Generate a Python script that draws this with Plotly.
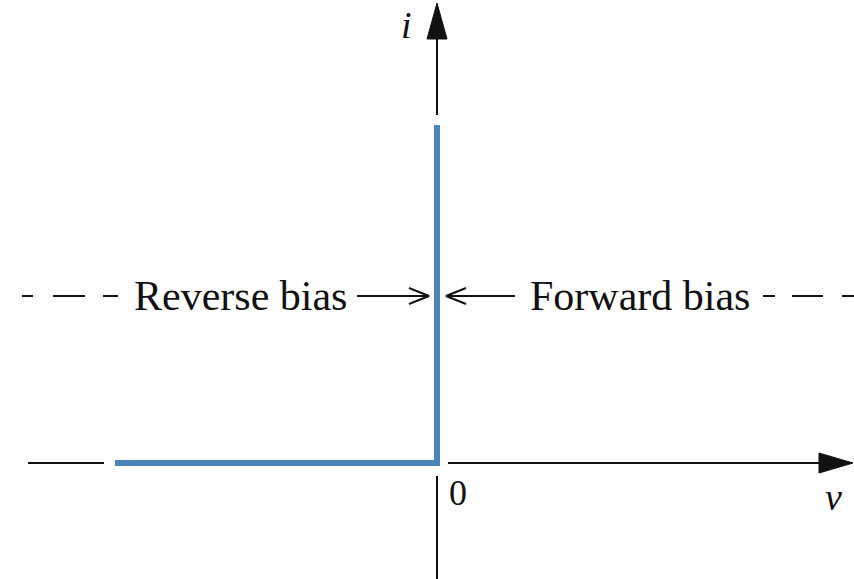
import plotly.graph_objs as go

# diagram units: 1 unit ~ 1 px of the original figure, origin at the knee of the curve
# ideal diode characteristic
v_curve = [-322, 0, 0]
i_curve = [0, 0, 338]

# axis pieces (black)
v_axis_left = [-409, -333]
v_axis_right = [11, 390]
i_axis_low = [-13, -116]
i_axis_high = [348, 425]

# arrowheads of the axes (filled)
v_head_x = [382, 416, 382, 382]
v_head_y = [10, 0, -10, 10]
i_head_x = [-10, 0, 10, -10]
i_head_y = [424, 460, 424, 424]

# dashed guide at the "bias" level
bias_level = 167
dash_left = [[-415, -404], [-384, -352], [-334, -319]]
dash_right = [[326, 338], [355, 386], [405, 417]]

# bias arrows
rev_arrow_x = [-80, -8]
fwd_arrow_x = [78, 9]
barb = 20
barb_h = 8

fig = go.Figure()

black = "#111111"
blue = "#4a85b9"

def seg(x, y, color=black, width=2):
    fig.add_trace(go.Scatter(x=x, y=y, mode="lines",
                             line=dict(color=color, width=width),
                             hoverinfo="skip", showlegend=False))

seg(v_axis_left, [0, 0])
seg(v_axis_right, [0, 0])
seg([0, 0], i_axis_low)
seg([0, 0], i_axis_high)

for d in dash_left + dash_right:
    seg(d, [bias_level, bias_level], width=2)

# reverse-bias arrow (points right)
seg(rev_arrow_x, [bias_level, bias_level])
t = rev_arrow_x[1]
seg([t - barb, t, t - barb], [bias_level + barb_h, bias_level, bias_level - barb_h])
# forward-bias arrow (points left)
seg(fwd_arrow_x, [bias_level, bias_level])
t = fwd_arrow_x[1]
seg([t + barb, t, t + barb], [bias_level + barb_h, bias_level, bias_level - barb_h])

for hx, hy in [(v_head_x, v_head_y), (i_head_x, i_head_y)]:
    fig.add_trace(go.Scatter(x=hx, y=hy, mode="lines", fill="toself",
                             fillcolor=black, line=dict(color=black, width=1),
                             hoverinfo="skip", showlegend=False))

# the curve itself
fig.add_trace(go.Scatter(x=v_curve, y=i_curve, mode="lines",
                         line=dict(color=blue, width=6),
                         hoverinfo="skip", showlegend=False))

serif = "Liberation Serif"
labels = [
    ("Reverse bias", -197, bias_level, 42, "normal"),
    ("Forward bias", 203, bias_level, 42, "normal"),
    ("i", -31, 438, 38, "italic"),
    ("0", 21, -30, 36, "normal"),
    ("v", 396, -34, 38, "italic"),
]
for txt, x, y, size, style in labels:
    fig.add_annotation(x=x, y=y, text=txt, showarrow=False,
                       font=dict(family=serif, size=size, color=black, style=style))

fig.update_layout(
    width=854, height=579,
    margin=dict(l=0, r=0, t=0, b=0),
    paper_bgcolor="white", plot_bgcolor="white",
    xaxis=dict(range=[-437, 417], visible=False, fixedrange=True),
    yaxis=dict(range=[-116, 463], visible=False, fixedrange=True),
)

# drop the page's default body margin so the figure fills the window
fig.write_html("out.html", config={"displayModeBar": False},
               post_script="document.body.style.margin='0';document.body.style.overflow='hidden';")
